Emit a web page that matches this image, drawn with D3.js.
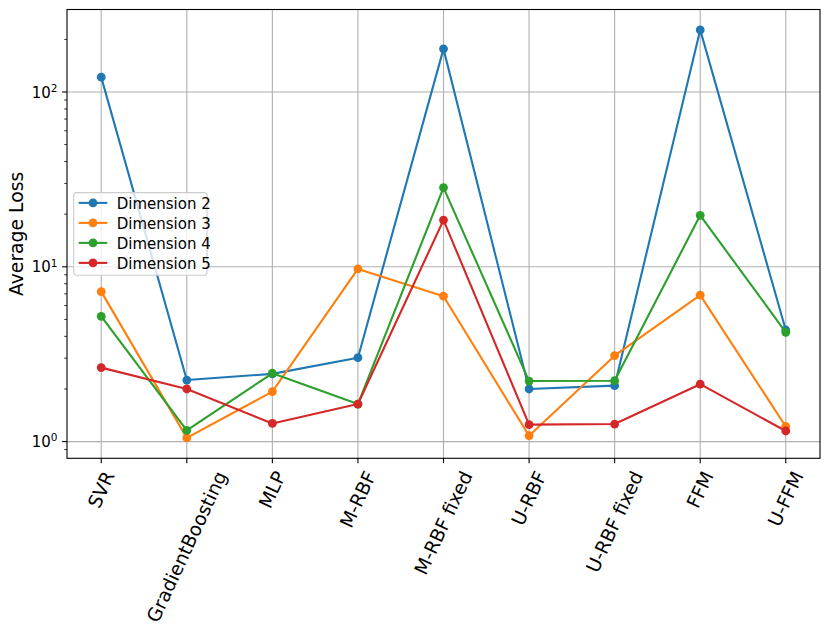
<!DOCTYPE html>
<html>
<head>
<meta charset="utf-8">
<script src="https://cdn.jsdelivr.net/npm/d3@7/dist/d3.min.js"></script>
</head>
<body style="margin:0; background:#fff">
<svg id="chart" width="830" height="635" font-family="DejaVu Sans"></svg>
<script>
const models = ["SVR", "GradientBoosting", "MLP", "M-RBF", "M-RBF fixed", "U-RBF", "U-RBF fixed", "FFM", "U-FFM"];

const dim2 = [121.6, 2.25, 2.44, 3.02, 176.5, 2.0, 2.09, 226.6, 4.35];
const dim3 = [7.21, 1.05, 1.93, 9.73, 6.79, 1.08, 3.10, 6.88, 1.22];
const dim4 = [5.21, 1.16, 2.46, 1.64, 28.4, 2.22, 2.23, 19.7, 4.22];
const dim5 = [2.65, 2.0, 1.27, 1.64, 18.5, 1.25, 1.26, 2.13, 1.15];

const seriesNames = ["Dimension 2", "Dimension 3", "Dimension 4", "Dimension 5"];
const colors = ["#1f77b4", "#ff7f0e", "#2ca02c", "#d62728"];

const series = [dim2, dim3, dim4, dim5].map((vals, i) => ({
  name: seriesNames[i],
  color: colors[i],
  values: vals.map((v, j) => ({ model: models[j], v }))
}));

const svg = d3.select("#chart");
const margin = { top: 9.5, right: 10, bottom: 176.7, left: 67 };
const W = +svg.attr("width"), H = +svg.attr("height");
const width = W - margin.left - margin.right;
const height = H - margin.top - margin.bottom;
const g = svg.append("g").attr("transform", `translate(${margin.left},${margin.top})`);

// matplotlib-like 5% margins in log space
const all = [].concat(dim2, dim3, dim4, dim5);
const lo = Math.log10(d3.min(all)), hi = Math.log10(d3.max(all));
const pad = (hi - lo) * 0.05;

const x = d3.scalePoint().domain(models).range([0, width]).padding(0.4);
const y = d3.scaleLog().domain([10 ** (lo - pad), 10 ** (hi + pad)]).range([height, 0]);

const majors = [1, 10, 100];
const minors = y.ticks().filter(t => !majors.includes(t));

// grid
g.append("g").selectAll("line").data(models).join("line")
  .attr("x1", d => x(d)).attr("x2", d => x(d))
  .attr("y1", 0).attr("y2", height)
  .attr("stroke", "#b0b0b0").attr("stroke-width", 1.1);
g.append("g").selectAll("line").data(majors).join("line")
  .attr("x1", 0).attr("x2", width)
  .attr("y1", d => y(d)).attr("y2", d => y(d))
  .attr("stroke", "#b0b0b0").attr("stroke-width", 1.1);

// lines + markers
const line = d3.line().x(d => x(d.model)).y(d => y(d.v));
series.forEach(s => {
  const sg = g.append("g");
  sg.append("path")
    .datum(s.values)
    .attr("d", line)
    .attr("fill", "none")
    .attr("stroke", s.color)
    .attr("stroke-width", 2.1)
    .attr("stroke-linejoin", "round");
  sg.selectAll("circle").data(s.values).join("circle")
    .attr("cx", d => x(d.model))
    .attr("cy", d => y(d.v))
    .attr("r", 4.4)
    .attr("fill", s.color);
});

// frame
g.append("rect")
  .attr("width", width).attr("height", height)
  .attr("fill", "none").attr("stroke", "#000").attr("stroke-width", 1.1);

// y ticks
const yAxis = g.append("g");
yAxis.selectAll("line.major").data(majors).join("line")
  .attr("class", "major")
  .attr("x1", -4.9).attr("x2", 0)
  .attr("y1", d => y(d)).attr("y2", d => y(d))
  .attr("stroke", "#000").attr("stroke-width", 1.1);
yAxis.selectAll("line.minor").data(minors).join("line")
  .attr("class", "minor")
  .attr("x1", -2.8).attr("x2", 0)
  .attr("y1", d => y(d)).attr("y2", d => y(d))
  .attr("stroke", "#000").attr("stroke-width", 0.8);
const yl = yAxis.selectAll("text").data(majors).join("text")
  .attr("x", -9.5)
  .attr("y", d => y(d) + 5.6)
  .attr("text-anchor", "end")
  .attr("font-size", "15px")
  .attr("fill", "#000");
yl.append("tspan").text("10");
yl.append("tspan")
  .attr("dy", -5.8)
  .attr("font-size", "10.5px")
  .text(d => Math.round(Math.log10(d)));

// x ticks
const xAxis = g.append("g").attr("transform", `translate(0,${height})`);
xAxis.selectAll("line").data(models).join("line")
  .attr("x1", d => x(d)).attr("x2", d => x(d))
  .attr("y1", 0).attr("y2", 4.9)
  .attr("stroke", "#000").attr("stroke-width", 1.1);
const fs = 18.8, ang = 65 * Math.PI / 180;
xAxis.selectAll("text").data(models).join("text")
  .attr("font-size", fs + "px")
  .attr("text-anchor", "middle")
  .attr("dominant-baseline", "central")
  .attr("fill", "#000")
  .text(d => d)
  .each(function (d) {
    const L = this.getComputedTextLength();
    const h = fs * 1.05;
    const bh = L * Math.sin(ang) + h * Math.cos(ang);
    const cx = x(d), cy = 10 + bh / 2;
    d3.select(this).attr("transform", `translate(${cx},${cy}) rotate(-65)`);
  });

// y label
svg.append("text")
  .attr("transform", `translate(23,${margin.top + height / 2}) rotate(-90)`)
  .attr("text-anchor", "middle")
  .attr("font-size", "18.8px")
  .attr("fill", "#000")
  .text("Average Loss");

// legend
const lg = g.append("g").attr("transform", `translate(6.7,${height / 2 - 41.3})`);
lg.append("rect")
  .attr("width", 133.3).attr("height", 82.6)
  .attr("rx", 2.8)
  .attr("fill", "#fff").attr("fill-opacity", 0.8)
  .attr("stroke", "#cccccc").attr("stroke-width", 1.1);
series.forEach((s, i) => {
  const ry = 10.3 + i * 20;
  const row = lg.append("g").attr("transform", `translate(0,${ry})`);
  row.append("line")
    .attr("x1", 5).attr("x2", 33.6)
    .attr("stroke", s.color).attr("stroke-width", 2.1);
  row.append("circle").attr("cx", 19.3).attr("r", 4.4).attr("fill", s.color);
  row.append("text")
    .attr("x", 43)
    .attr("y", 5.6)
    .attr("font-size", "15px")
    .attr("fill", "#000")
    .text(s.name);
});
</script>
</body>
</html>
